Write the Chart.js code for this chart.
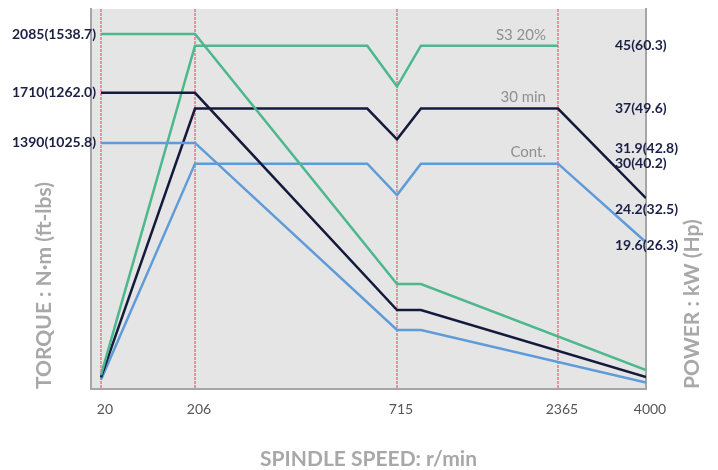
<!DOCTYPE html>
<html>
<head>
<meta charset="utf-8">
<script src="https://cdn.jsdelivr.net/npm/chart.js@4"></script>
<style>
  html, body { margin: 0; padding: 0; background: #fff; }
  #wrap { width: 718px; height: 470px; }
</style>
</head>
<body>
<div id="wrap"><canvas id="spindleChart"></canvas></div>
<script>
// spindle speed (r/min) at the corners of each curve
const torqueSpeeds = [20, 206, 715, 960, 4000];
const powerSpeeds = [20, 206, 640, 715, 960, 2365, 4000];

// torque N·m
const s3Torque = [2085, 2085, 489, 489, -60];
const min30Torque = [1710, 1710, 323, 323, -104];
const contTorque = [1390, 1390, 196, 196, -140];

// power kW (S3 stops at 2365)
const s3Power = [3.1, 45, 45, 39.8, 45, 45];
const min30Power = [2.8, 37, 37, 33.1, 37, 37, 25.6];
const contPower = [2.5, 30, 30, 26.0, 30, 30, 20.0];

const seriesNames = ["S3 20%", "30 min", "Cont."];

// tick labels
const speedTicks = [20, 206, 715, 2365, 4000];
const torqueTicks = [2085, 1710, 1390];
const torqueLabels = ["2085(1538.7)", "1710(1262.0)", "1390(1025.8)"];
const powerTicks = [45, 37, 31.9, 30, 24.2, 19.6];
const powerLabels = ["45(60.3)", "37(49.6)", "31.9(42.8)", "30(40.2)", "24.2(32.5)", "19.6(26.3)"];

const colors = ["#4db78d", "#141a3c", "#5e9bd8"];
const FONT = "Lato, 'Noto Sans', sans-serif";

// the speed axis is not to scale: each labelled speed sits at its own spot
const stopSpeeds = [0, 20, 206, 715, 2365, 4000];
const stopDecimals = [0, 0.018, 0.1874, 0.5514, 0.8414, 1];

function speedToDecimal(v) {
    for (let i = 1; i < stopSpeeds.length; i++) {
        if (v <= stopSpeeds[i] || i === stopSpeeds.length - 1) {
            const t = (v - stopSpeeds[i - 1]) / (stopSpeeds[i] - stopSpeeds[i - 1]);
            return stopDecimals[i - 1] + t * (stopDecimals[i] - stopDecimals[i - 1]);
        }
    }
}
function decimalToSpeed(d) {
    for (let i = 1; i < stopDecimals.length; i++) {
        if (d <= stopDecimals[i] || i === stopDecimals.length - 1) {
            const t = (d - stopDecimals[i - 1]) / (stopDecimals[i] - stopDecimals[i - 1]);
            return stopSpeeds[i - 1] + t * (stopSpeeds[i] - stopSpeeds[i - 1]);
        }
    }
}

class SpeedScale extends Chart.LinearScale {
    static id = "speed";
    getPixelForValue(value) {
        if (value === null || value === undefined || isNaN(value)) return NaN;
        return this.getPixelForDecimal(speedToDecimal(value));
    }
    getValueForPixel(pixel) {
        return decimalToSpeed(this.getDecimalForPixel(pixel));
    }
}
Chart.register(SpeedScale);

function points(speeds, values) {
    return values.map((v, i) => ({ x: speeds[i], y: v }));
}

// grey plot background
const plotBackground = {
    id: "plotBackground",
    beforeDraw(chart) {
        const { ctx, chartArea: a } = chart;
        ctx.save();
        ctx.fillStyle = "#e5e5e5";
        ctx.fillRect(a.left, a.top, a.right - a.left, a.bottom - a.top);
        ctx.restore();
    },
    // red dotted lines at the labelled speeds (not at the right edge)
    beforeDatasetsDraw(chart) {
        const { ctx, chartArea: a } = chart;
        const x = chart.scales.x;
        ctx.save();
        ctx.strokeStyle = "#e8405c";
        ctx.lineWidth = 1;
        ctx.setLineDash([3, 1]);
        speedTicks.filter(v => v !== 4000).forEach(v => {
            const px = Math.round(x.getPixelForValue(v));
            ctx.beginPath();
            ctx.moveTo(px, a.top);
            ctx.lineTo(px, a.bottom - 1);
            ctx.stroke();
        });
        ctx.restore();
    }
};

// y tick labels (they run over the plot edge), curve names, right axis title
const extraText = {
    id: "extraText",
    afterDraw(chart) {
        const { ctx, chartArea: a } = chart;
        const x = chart.scales.x;
        const t = chart.scales.torque;
        const p = chart.scales.power;
        ctx.save();
        ctx.textBaseline = "middle";
        ctx.font = "bold 14px " + FONT;
        ctx.fillStyle = "#1b2044";
        ctx.textAlign = "right";
        torqueTicks.forEach((v, i) => ctx.fillText(torqueLabels[i], a.left + 5, t.getPixelForValue(v)));
        ctx.textAlign = "left";
        powerTicks.forEach((v, i) => ctx.fillText(powerLabels[i], a.right - 31, p.getPixelForValue(v)));

        ctx.font = "15px " + FONT;
        ctx.fillStyle = "#8f8f8f";
        ctx.textAlign = "right";
        const powers = [s3Power, min30Power, contPower];
        powers.forEach((arr, i) => {
            const v = arr[powerSpeeds.indexOf(2365)];
            ctx.fillText(seriesNames[i], x.getPixelForValue(2365) - 12, p.getPixelForValue(v) - 11);
        });

        ctx.translate(692, a.bottom);
        ctx.rotate(-Math.PI / 2);
        ctx.font = "bold 21px " + FONT;
        ctx.fillStyle = "#a8a8a8";
        ctx.textAlign = "left";
        ctx.fillText("POWER : kW (Hp)", 0, 0);
        ctx.restore();
    }
};

function line(label, data, color, axis) {
    return {
        label: label,
        data: data,
        yAxisID: axis,
        borderColor: color,
        backgroundColor: color,
        borderWidth: 2.5,
        pointRadius: 0,
        tension: 0,
        borderJoinStyle: "miter",
        fill: false
    };
}

const ctx = document.getElementById("spindleChart").getContext("2d");
new Chart(ctx, {
    type: "line",
    data: {
        datasets: [
            line(seriesNames[0] + " torque", points(torqueSpeeds, s3Torque), colors[0], "torque"),
            line(seriesNames[1] + " torque", points(torqueSpeeds, min30Torque), colors[1], "torque"),
            line(seriesNames[2] + " torque", points(torqueSpeeds, contTorque), colors[2], "torque"),
            line(seriesNames[0] + " power", points(powerSpeeds, s3Power), colors[0], "power"),
            line(seriesNames[1] + " power", points(powerSpeeds, min30Power), colors[1], "power"),
            line(seriesNames[2] + " power", points(powerSpeeds, contPower), colors[2], "power")
        ]
    },
    options: {
        responsive: true,
        maintainAspectRatio: false,
        animation: false,
        layout: { padding: { top: 9, left: 0, right: 0, bottom: 0 } },
        plugins: {
            legend: { display: false },
            tooltip: { enabled: false }
        },
        scales: {
            x: {
                type: "speed",
                min: 0,
                max: 4000,
                afterBuildTicks: s => { s.ticks = speedTicks.map(v => ({ value: v })); },
                afterFit: s => { s.height = 81; },
                grid: { display: false, drawTicks: false },
                border: { display: true, color: "#a6a6a6", width: 2 },
                ticks: {
                    autoSkip: false,
                    maxRotation: 0,
                    padding: 12,
                    labelOffset: 4,
                    color: "#555555",
                    font: { family: FONT, size: 14 },
                    callback: v => String(v)
                },
                title: {
                    display: true,
                    text: "SPINDLE SPEED: r/min",
                    color: "#a8a8a8",
                    font: { family: FONT, size: 21, weight: "bold" },
                    padding: { top: 0, bottom: -2 }
                }
            },
            torque: {
                type: "linear",
                position: "left",
                min: -181,
                max: 2245,
                afterBuildTicks: s => { s.ticks = torqueTicks.map(v => ({ value: v })); },
                afterFit: s => { s.width = 91; },
                grid: { display: false, drawTicks: false },
                border: { display: true, color: "#a6a6a6", width: 2 },
                ticks: { display: false },
                title: {
                    display: true,
                    text: "TORQUE : N·m (ft-lbs)",
                    align: "start",
                    color: "#a8a8a8",
                    font: { family: FONT, size: 21, weight: "bold" },
                    padding: { top: 32, bottom: 0 }
                }
            },
            power: {
                type: "linear",
                position: "right",
                min: 1.33,
                max: 49.67,
                afterBuildTicks: s => { s.ticks = powerTicks.map(v => ({ value: v })); },
                afterFit: s => { s.width = 72; },
                grid: { display: false, drawTicks: false },
                border: { display: true, color: "#a6a6a6", width: 2 },
                ticks: { display: false }
            }
        }
    },
    plugins: [plotBackground, extraText]
});
</script>
</body>
</html>
